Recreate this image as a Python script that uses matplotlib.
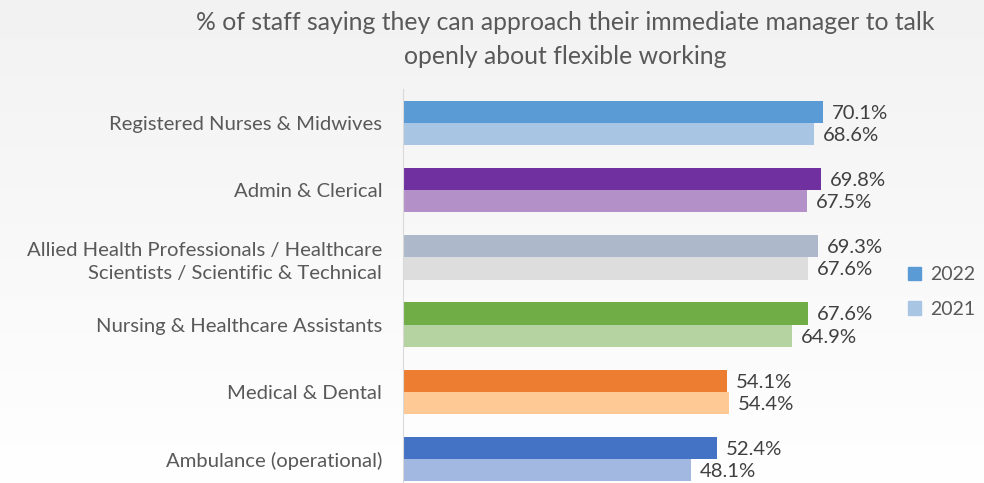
import numpy as np
import matplotlib.pyplot as plt

# data
categories = ['Registered Nurses & Midwives', 'Admin & Clerical',
              'Allied Health Professionals / Healthcare\nScientists / Scientific & Technical',
              'Nursing & Healthcare Assistants', 'Medical & Dental', 'Ambulance (operational)']
vals_2022 = [70.1, 69.8, 69.3, 67.6, 54.1, 52.4]
vals_2021 = [68.6, 67.5, 67.6, 64.9, 54.4, 48.1]
colors_2022 = ['#5B9BD5', '#7030A0', '#ADB9CA', '#70AD47', '#ED7D31', '#4472C4']
colors_2021 = ['#A8C6E3', '#B391C8', '#DDDDDD', '#B5D3A0', '#FEC995', '#A2B8E0']

plt.rcParams['font.family'] = ['Lato', 'DejaVu Sans']

W, H = 984, 483
fig = plt.figure(figsize=(W / 100, H / 100), dpi=100)

# background gradient, light grey at top to white at bottom
bg = fig.add_axes([0, 0, 1, 1], zorder=-10)
grad = np.linspace(0.949, 1.0, 256).reshape(-1, 1)
bg.imshow(np.dstack([grad, grad, grad]), aspect='auto', extent=[0, 1, 0, 1])
bg.axis('off')

# axes placed in pixel terms
x0, x1 = 403, 883
ytop, ybot = 89, 483
ax = fig.add_axes([x0 / W, 1 - ybot / H, (x1 - x0) / W, (ybot - ytop) / H])
ax.patch.set_alpha(0)

pitch = 67.2
ax.set_xlim(0, (x1 - x0) / 5.99)
ax.set_ylim((ybot - 123) / pitch, -(123 - ytop) / pitch)

y = np.arange(len(categories))
h = 0.33
ax.barh(y - h / 2, vals_2022, height=h, color=colors_2022)
ax.barh(y + h / 2, vals_2021, height=h, color=colors_2021)

fs = 14.6
for i in range(len(categories)):
    ax.text(vals_2022[i] + 1.5, y[i] - h / 2 + 0.02, f'{vals_2022[i]:.1f}%',
            va='center', ha='left', fontsize=fs, color='#404040')
    ax.text(vals_2021[i] + 1.5, y[i] + h / 2 + 0.02, f'{vals_2021[i]:.1f}%',
            va='center', ha='left', fontsize=fs, color='#404040')

ax.set_yticks(y)
ax.set_yticklabels(categories, fontsize=fs, color='#595959', linespacing=1.45)
ax.tick_params(axis='y', length=0, pad=15)
ax.set_xticks([])
for s in ['top', 'right', 'bottom']:
    ax.spines[s].set_visible(False)
ax.spines['left'].set_color('#D9D9D9')

# legend
ax.legend(handles=[plt.Rectangle((0, 0), 1, 1, color='#5B9BD5'),
                   plt.Rectangle((0, 0), 1, 1, color='#A8C6E3')],
          labels=['2022', '2021'], loc='center left',
          bbox_to_anchor=(890 / W, 1 - 292 / H), bbox_transform=fig.transFigure,
          frameon=False, fontsize=14, labelcolor='#595959',
          handlelength=0.7, handleheight=0.7, handletextpad=0.45, labelspacing=0.9)

fig.text(565 / W, 1 - 22 / H, '% of staff saying they can approach their immediate manager to talk',
         ha='center', va='center', fontsize=17.8, color='#595959')
fig.text(565 / W, 1 - 56 / H, 'openly about flexible working',
         ha='center', va='center', fontsize=17.8, color='#595959')

fig.savefig('out.png', dpi=100)
